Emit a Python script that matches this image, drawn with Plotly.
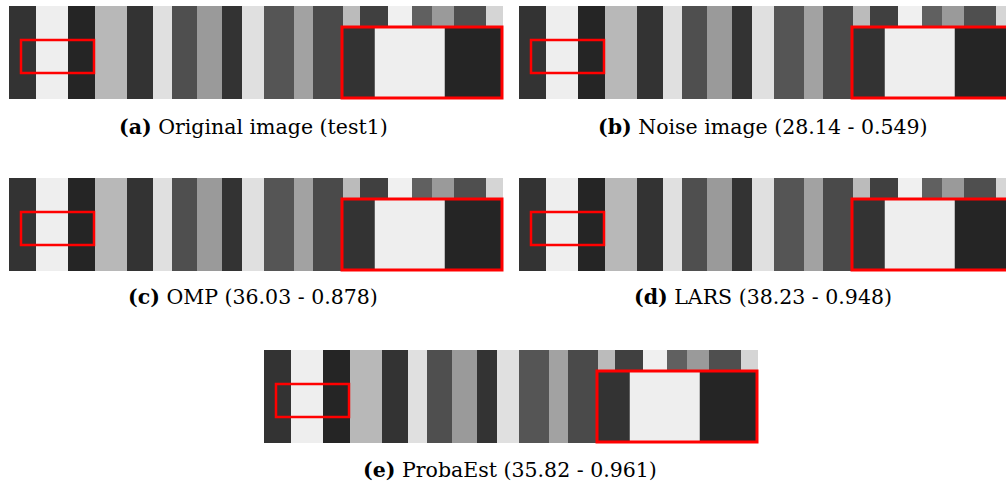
import plotly.graph_objects as go

# ---- data -------------------------------------------------------------------
# vertical stripe boundaries (image pixel units) and their gray levels (0-255)
stripe_edges = [0, 26.7, 58.7, 86, 117.7, 143.7, 163, 188, 212.7, 233.3, 255,
                284.7, 304.3, 333.7, 351, 379.3, 402.7, 422.7, 445, 476.7, 494]
stripe_gray = [51, 238, 37, 184, 51, 224, 79, 154, 51, 224,
               85, 162, 74, 187, 64, 240, 96, 154, 79, 213]
image_rows = [0, 93]            # image height (pixel units)
zoom_box_x = [12, 85]           # region shown magnified in the inset
zoom_box_y = [34, 67]
captions = [
    "<b>(a)</b> Original image (test1)",
    "<b>(b)</b> Noise image (28.14 - 0.549)",
    "<b>(c)</b> OMP (36.03 - 0.878)",
    "<b>(d)</b> LARS (38.23 - 0.948)",
    "<b>(e)</b> ProbaEst (35.82 - 0.961)",
]

# ---- layout (pixels) ---------------------------------------------------------
W, H = 1006, 491
IMG_W, IMG_H = 494, 93
panel_pos = [(9, 6), (519, 6), (9, 178), (519, 178), (264, 350)]   # left, top
caption_pos = [(253, 127), (763, 127), (253, 297), (763, 297), (510, 470)]
INSET_X = (333, 493)
INSET_Y = (21, 92)

colorscale = [[0, "black"], [1, "white"]]

fig = go.Figure()
shapes = []
annotations = []
layout_axes = {}

def ax_common():
    return dict(showgrid=False, zeroline=False, showticklabels=False,
                ticks="", showline=False, fixedrange=True)

for i, (left, top) in enumerate(panel_pos):
    n = i + 1
    m = i + 6
    x1p = min(left + IMG_W, W)
    xa = "xaxis" if n == 1 else f"xaxis{n}"
    ya = "yaxis" if n == 1 else f"yaxis{n}"
    xref = "x" if n == 1 else f"x{n}"
    yref = "y" if n == 1 else f"y{n}"
    layout_axes[xa] = dict(domain=[left / W, x1p / W], range=[0, x1p - left],
                           anchor=yref, **ax_common())
    layout_axes[ya] = dict(domain=[1 - (top + IMG_H) / H, 1 - top / H],
                           range=[image_rows[1], image_rows[0]], anchor=xref,
                           **ax_common())
    fig.add_trace(go.Heatmap(z=[stripe_gray], x=stripe_edges, y=image_rows,
                             colorscale=colorscale, zmin=0, zmax=255,
                             showscale=False, hoverinfo="skip",
                             xaxis=xref, yaxis=yref))
    # small red box marking the zoomed region
    shapes.append(dict(type="rect", xref=xref, yref=yref,
                       x0=zoom_box_x[0], x1=zoom_box_x[1],
                       y0=zoom_box_y[0], y1=zoom_box_y[1],
                       line=dict(color="#ff0000", width=2.5)))

    # inset
    ix0, ix1 = left + INSET_X[0], left + INSET_X[1]
    iy0, iy1 = top + INSET_Y[0], top + INSET_Y[1]
    ix1v = min(ix1, W)
    span = zoom_box_x[1] - zoom_box_x[0]
    layout_axes[f"xaxis{m}"] = dict(
        domain=[ix0 / W, ix1v / W],
        range=[zoom_box_x[0], zoom_box_x[0] + span * (ix1v - ix0) / (ix1 - ix0)],
        anchor=f"y{m}", **ax_common())
    layout_axes[f"yaxis{m}"] = dict(
        domain=[1 - iy1 / H, 1 - iy0 / H],
        range=[zoom_box_y[1], zoom_box_y[0]], anchor=f"x{m}", **ax_common())
    fig.add_trace(go.Heatmap(z=[stripe_gray], x=stripe_edges, y=image_rows,
                             colorscale=colorscale, zmin=0, zmax=255,
                             showscale=False, hoverinfo="skip",
                             xaxis=f"x{m}", yaxis=f"y{m}"))
    shapes.append(dict(type="rect", xref="paper", yref="paper",
                       x0=ix0 / W, x1=ix1 / W, y0=1 - iy1 / H, y1=1 - iy0 / H,
                       line=dict(color="#ff0000", width=3)))

    cx, cy = caption_pos[i]
    annotations.append(dict(text=captions[i], x=cx / W, y=1 - cy / H,
                            xref="paper", yref="paper", showarrow=False,
                            xanchor="center", yanchor="middle",
                            font=dict(family="DejaVu Serif", size=20.5,
                                      color="black")))

fig.update_layout(width=W, height=H, autosize=False,
                  margin=dict(l=0, r=0, t=0, b=0, pad=0),
                  paper_bgcolor="white", plot_bgcolor="white",
                  shapes=shapes, annotations=annotations, showlegend=False,
                  **layout_axes)

fig.write_html("out.html",
               config={"displayModeBar": False, "staticPlot": True},
               post_script="document.body.style.margin='0';"
                           "document.body.style.overflow='hidden';")
